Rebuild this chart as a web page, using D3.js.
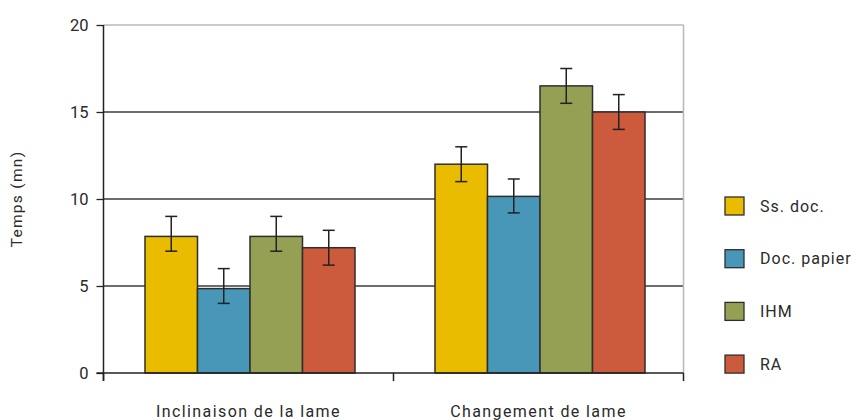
<!DOCTYPE html>
<html><head><meta charset="utf-8">
<script src="https://cdn.jsdelivr.net/npm/d3@7"></script>
<style>body{margin:0;background:#fff;} svg{display:block;font-family:Roboto, "DejaVu Sans", sans-serif;}</style>
</head><body><svg id="c" width="859" height="420"></svg>
<script>
const categories = ["Inclinaison de la lame", "Changement de lame"];
const series = ["Ss. doc.", "Doc. papier", "IHM", "RA"];
const colors = ["#E9BC00", "#4896B8", "#96A055", "#CC5A3C"];
// values[series][category]
const values = [[7.85, 12.0], [4.85, 10.15], [7.85, 16.5], [7.2, 15.0]];
const errLow = [[7.0, 11.0], [4.0, 9.2], [7.0, 15.5], [6.2, 14.0]];
const errHigh = [[9.0, 13.0], [6.0, 11.15], [9.0, 17.5], [8.2, 16.0]];
const yTicks = [0, 5, 10, 15, 20];

const svg = d3.select("#c");
const L = 103.5, R = 683.5, T = 25, B = 373;
const x0 = d3.scaleBand().domain(categories).range([L, R]).paddingInner(0).paddingOuter(0);
const groupW = 210;
const x1 = d3.scaleBand().domain(series).range([0, groupW]);
const y = d3.scaleLinear().domain([0, 20]).range([B, T]);
const txt = "#2a2a2a";

// gridlines
svg.append("g").selectAll("line").data(yTicks.filter(d => d > 0)).join("line")
  .attr("x1", L).attr("x2", R).attr("y1", d => y(d)).attr("y2", d => y(d))
  .attr("stroke", d => d === 20 ? "#b8b8b8" : "#3c3c3c").attr("stroke-width", d => d === 20 ? 1.5 : 1.3);
// right border
svg.append("line").attr("x1", R).attr("x2", R).attr("y1", T).attr("y2", B).attr("stroke", "#b8b8b8").attr("stroke-width", 1.5);

// bars
const groups = svg.append("g").selectAll("g").data(categories).join("g")
  .attr("transform", c => `translate(${x0(c) + (x0.bandwidth() - groupW) / 2 + 1.5},0)`);
groups.each(function(c, ci) {
  const g = d3.select(this);
  series.forEach((s, si) => {
    g.append("rect").attr("x", x1(s)).attr("width", x1.bandwidth())
      .attr("y", y(values[si][ci])).attr("height", B - y(values[si][ci]))
      .attr("fill", colors[si]).attr("stroke", "#2e2e2e").attr("stroke-width", 1.5);
  });
  series.forEach((s, si) => {
    const cx = x1(s) + x1.bandwidth() / 2;
    const e = g.append("g").attr("stroke", "#222").attr("stroke-width", 1.5);
    e.append("line").attr("x1", cx).attr("x2", cx).attr("y1", y(errLow[si][ci])).attr("y2", y(errHigh[si][ci]));
    [errLow[si][ci], errHigh[si][ci]].forEach(v => e.append("line").attr("x1", cx - 6).attr("x2", cx + 6).attr("y1", y(v)).attr("y2", y(v)));
  });
});

// axes
const yAxis = svg.append("g").attr("transform", `translate(${L},0)`)
  .call(d3.axisLeft(y).tickValues(yTicks).tickSize(7).tickPadding(8));
yAxis.select(".domain").remove();
yAxis.append("line").attr("x1", 0).attr("x2", 0).attr("y1", T).attr("y2", B + 8).attr("stroke", "#222").attr("stroke-width", 1.5);
yAxis.selectAll(".tick line").attr("stroke", "#222").attr("stroke-width", 1.3);
yAxis.selectAll(".tick text").attr("font-size", 16.5).attr("fill", txt).attr("font-family", "Roboto").attr("dy", "0.34em");

const xAxis = svg.append("g").attr("transform", `translate(0,${B})`);
xAxis.append("line").attr("x1", L - 7).attr("x2", R).attr("y1", 0).attr("y2", 0).attr("stroke", "#222").attr("stroke-width", 1.5);
xAxis.selectAll("line.t").data([L, ...categories.map(c => x0(c) + x0.bandwidth())]).join("line").attr("class", "t")
  .attr("x1", d => d).attr("x2", d => d).attr("y1", 0).attr("y2", 8).attr("stroke", "#222").attr("stroke-width", 1.5);
xAxis.selectAll("text").data(categories).join("text")
  .attr("x", c => x0(c) + x0.bandwidth() / 2).attr("y", 43.5).attr("text-anchor", "middle")
  .attr("font-size", 16).attr("fill", txt).attr("letter-spacing", 1.4).text(c => c);

// y title
svg.append("text").attr("transform", `translate(22,${(T + B) / 2}) rotate(-90)`).attr("text-anchor", "middle")
  .attr("font-size", 15.5).attr("fill", txt).attr("letter-spacing", 1.3).text("Temps (mn)");

// legend
const lg = svg.append("g").selectAll("g").data(series).join("g")
  .attr("transform", (d, i) => `translate(725,${206 + i * 52.7})`);
lg.append("rect").attr("x", 0).attr("y", -9).attr("width", 19).attr("height", 18)
  .attr("fill", (d, i) => colors[i]).attr("stroke", "#2e2e2e").attr("stroke-width", 1.3);
lg.append("text").attr("x", 35).attr("y", 0).attr("dy", "0.36em").attr("font-size", 16).attr("fill", txt)
  .attr("letter-spacing", 1.0).text(d => d);
</script></body></html>
